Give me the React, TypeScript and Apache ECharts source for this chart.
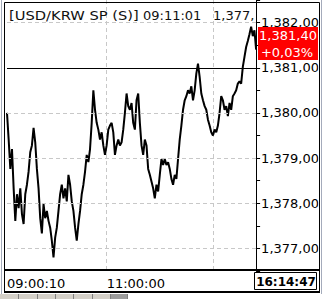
import React, { useEffect, useRef } from "react";
import * as echarts from "echarts";

// ---- data ----
const prices: number[] = [
  1380.00, 1379.41, 1378.76, 1379.20, 1378.33, 1377.61, 1378.20, 1377.89, 1378.33, 1377.76,
  1377.54, 1378.20, 1378.41, 1378.70, 1379.13, 1379.28, 1379.67, 1379.35, 1378.76, 1378.33,
  1377.67, 1377.33, 1377.98, 1377.67, 1377.83, 1377.61, 1377.46, 1377.17, 1376.80, 1377.24,
  1377.46, 1377.83, 1378.20, 1378.41, 1378.11, 1378.33, 1378.04, 1378.63, 1378.41, 1378.04,
  1377.83, 1377.46, 1377.17, 1377.54, 1377.83, 1378.20, 1378.41, 1378.70, 1379.07, 1378.91,
  1379.20, 1379.78, 1380.50, 1380.07, 1379.78, 1379.63, 1379.41, 1379.57, 1379.28, 1379.07,
  1379.28, 1379.63, 1379.72, 1379.78, 1379.57, 1379.07, 1379.28, 1379.41, 1379.28, 1379.35,
  1379.63, 1380.00, 1380.43, 1380.15, 1380.07, 1380.22, 1379.78, 1379.63, 1380.28, 1380.43,
  1379.78, 1379.28, 1379.07, 1379.41, 1379.28, 1378.76,
  1378.63, 1378.48, 1378.33, 1378.11, 1378.41, 1378.26, 1378.63, 1378.98, 1378.85, 1378.98,
  1378.85, 1378.91, 1378.76, 1378.54, 1378.41, 1378.63, 1378.54, 1378.98, 1379.41, 1379.72,
  1380.07, 1380.28, 1380.37, 1380.50, 1380.43, 1380.59, 1380.28, 1380.50, 1380.87, 1381.09,
  1380.80, 1380.43, 1380.28, 1380.15, 1380.07, 1379.85, 1379.72, 1379.57, 1379.50, 1379.63,
  1379.57, 1379.72, 1380.00, 1380.37, 1380.28, 1380.07, 1380.15, 1379.93, 1380.22, 1380.07,
  1380.37, 1380.43, 1380.50, 1380.65, 1380.70, 1380.65, 1381.02, 1381.24, 1381.46, 1381.59,
  1381.74, 1381.91, 1381.70, 1381.83, 1381.40,
];

const timeLabels: string[] = ["09:00:10", "11:00:00"];
const timeLabelIndex: number[] = [0, 60];
const timeGridIndex: number[] = [60, 124];
const lastTime = "16:14:47";
const titleText = "[USD/KRW SP (S)]";
const cursorTime = "09:11:01";
const cursorPrice = "1,377,90";
const prevClose = 1381.0;
const lastPrice = 1381.4;
const changeText = "+0,03%";
const yGridValues: number[] = [1377, 1378, 1379, 1380, 1381, 1382];

const categories = prices.map((_, i) => {
  const k = timeLabelIndex.indexOf(i);
  return k >= 0 ? timeLabels[k] : String(i);
});

function fmt(v: number): string {
  const s = v.toFixed(2);
  const [ip, dp] = s.split(".");
  const withSep = ip.replace(/\B(?=(\d{3})+(?!\d))/g, ",");
  return withSep + "," + dp;
}

const FONT = '"DejaVu Sans"';

export default function App() {
  const ref = useRef<HTMLDivElement>(null);
  useEffect(() => {
    if (!ref.current) return;
    const chart = echarts.init(ref.current, undefined, { renderer: "svg" });
    const gridLines = yGridValues.map((v) => ({
      yAxis: v,
      lineStyle: { color: "#c8c8c8", type: [4, 3] as any, width: 1 },
    }));
    const option: any = {
      animation: false,
      backgroundColor: "#ffffff",
      grid: { left: 7, right: 65, top: -5, bottom: 28, containLabel: false },
      xAxis: {
        type: "category",
        boundaryGap: false,
        data: categories,
        axisLine: { show: false },
        axisTick: { show: false },
        axisLabel: {
          interval: (i: number) => timeLabelIndex.includes(i),
          align: "left",
          margin: 6,
          color: "#000",
          fontSize: 13,
          fontFamily: FONT,
        },
        splitLine: {
          show: true,
          interval: (i: number) => timeGridIndex.includes(i),
          lineStyle: { color: "#c8c8c8", type: [4, 3], width: 1 },
        },
      },
      yAxis: {
        type: "value",
        position: "right",
        min: 1376.5,
        max: 1382.5,
        interval: 0.5,
        axisLine: { show: true, lineStyle: { color: "#000", width: 1 } },
        axisTick: { show: true, length: 4, lineStyle: { color: "#000" } },
        axisLabel: {
          margin: 5,
          color: "#000",
          fontSize: 13,
          fontFamily: FONT,
          formatter: (v: number) =>
            Math.abs(v - Math.round(v)) < 1e-6 ? fmt(v) : "",
        },
        splitLine: { show: false },
      },
      series: [
        {
          type: "line",
          data: prices,
          showSymbol: false,
          symbol: "none",
          lineStyle: { color: "#000", width: 2 },
          z: 3,
          markLine: {
            silent: true,
            symbol: ["none", "none"],
            label: { show: false },
            data: [
              ...gridLines,
              { yAxis: prevClose, lineStyle: { color: "#000", type: "solid", width: 1 } },
            ],
          },
        },
      ],
      graphic: {
        elements: [
          // title texts
          {
            type: "text",
            z: 50,
            x: 9,
            y: 15,
            scaleX: 1.13,
            style: { text: titleText, x: 0, y: 0, fill: "#111", font: `13px ${FONT}`, verticalAlign: "middle" },
          },
          {
            type: "text",
            z: 50,
            style: { text: cursorTime, x: 143, y: 15, fill: "#111", font: `13px ${FONT}`, verticalAlign: "middle" },
          },
          {
            type: "text",
            z: 50,
            style: {
              text: cursorPrice, x: 213, y: 15, fill: "#111", font: `13px ${FONT}`, verticalAlign: "middle",
              width: 44, overflow: "truncate", ellipsis: "",
            },
          },
          // clip right edge
          { type: "rect", z: 100, shape: { x: 318.5, y: 0, width: 4, height: 294 }, style: { fill: "#fff" } },
          // outer gray lines
          { type: "line", z: 101, shape: { x1: 1.5, y1: 0, x2: 1.5, y2: 294 }, style: { stroke: "#a4abbb", lineWidth: 1 } },
          { type: "line", z: 101, shape: { x1: 321.5, y1: 0, x2: 321.5, y2: 294 }, style: { stroke: "#a4abbb", lineWidth: 1 } },
          // black frame
          { type: "rect", z: 101, shape: { x: 4.5, y: 2.5, width: 315, height: 289 }, style: { fill: "none", stroke: "#000", lineWidth: 1 } },
          { type: "line", z: 101, shape: { x1: 4, y1: 292, x2: 320, y2: 292 }, style: { stroke: "#000", lineWidth: 2 } },
          { type: "line", z: 101, shape: { x1: 4, y1: 270, x2: 320, y2: 270 }, style: { stroke: "#000", lineWidth: 2 } },
          // last time box
          { type: "rect", z: 101, shape: { x: 254.5, y: 272.5, width: 62, height: 17 }, style: { fill: "#fff", stroke: "#000", lineWidth: 1 } },
          {
            type: "text", z: 102,
            style: { text: lastTime, x: 286, y: 282, fill: "#000", font: `bold 12px ${FONT}`, align: "center", verticalAlign: "middle" },
          },
          // last price box
          { type: "rect", z: 101, shape: { x: 258, y: 27, width: 60, height: 33 }, style: { fill: "#ff0000" } },
          {
            type: "text", z: 102,
            style: { text: fmt(lastPrice), x: 288, y: 35, fill: "#fff", font: `13px ${FONT}`, align: "center", verticalAlign: "middle" },
          },
          {
            type: "text", z: 102,
            style: { text: changeText, x: 287, y: 52, fill: "#fff", font: `13px ${FONT}`, align: "center", verticalAlign: "middle" },
          },
          // bottom strip
          { type: "rect", z: 101, shape: { x: 0, y: 294, width: 127, height: 5 }, style: { fill: "#d4d0c8" } },
          { type: "rect", z: 101, shape: { x: 110, y: 294, width: 17, height: 5 }, style: { fill: "#9c9c9c" } },
          ...[18, 37, 55, 73, 92, 110, 127].map((sx) => ({
            type: "line", z: 102,
            shape: { x1: sx + 0.5, y1: 294, x2: sx + 0.5, y2: 299 },
            style: { stroke: "#808080", lineWidth: 1 },
          })),
        ],
      },
    };
    chart.setOption(option);
    return () => chart.dispose();
  }, []);
  return <div ref={ref} style={{ width: 322, height: 299, position: "absolute", left: 0, top: 0 }} />;
}
